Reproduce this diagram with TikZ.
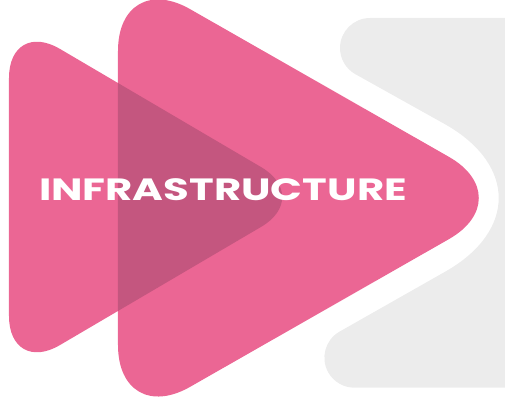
\documentclass[tikz,border=0pt]{standalone}
\usepackage{fontspec}
\newfontfamily\titlefont{Poppins}
\definecolor{arrowpink}{HTML}{EB6694}
\definecolor{arrowdark}{HTML}{C4567F}
\definecolor{panelgray}{HTML}{ECECEC}

\begin{document}
\begin{tikzpicture}[
  x=0.02cm, y=-0.02cm,
  panel/.style={fill=panelgray},
  bigarrow/.style={fill=arrowpink, rounded corners=1.66cm},
  smallarrow/.style={fill=arrowpink, rounded corners=1.18cm},
  title/.style={text=white, font=\titlefont\bfseries\fontsize{17.5}{20}\selectfont}
]

\useasboundingbox (0,0) rectangle (505,405);
\clip (0,0) rectangle (505,405);

% gray panel with the notch
\fill[panel] (700,18) -- (370,18) arc[start angle=270, end angle=119.6, radius=30]
  -- (445,124.2) .. controls (516.6,164.7) and (516.6,231.3) .. (445,271.8)
  -- (339.4,331.7) arc[start angle=240, end angle=90, radius=30]
  -- (700,387.7) -- cycle;

% the two arrows
\fill[smallarrow] (9,19) -- (312,197) -- (9,375) -- cycle;
\fill[bigarrow] (118,-32) -- (521,198) -- (118,428) -- cycle;

% where they overlap
\begin{scope}
  \clip[rounded corners=1.66cm] (118,-32) -- (521,198) -- (118,428) -- cycle;
  \fill[arrowdark, rounded corners=1.18cm] (9,19) -- (312,197) -- (9,375) -- cycle;
\end{scope}

\node[title] (infra) at (223,190) {\scalebox{1.36}[1]{INFRASTRUCTURE}};

\end{tikzpicture}
\end{document}
